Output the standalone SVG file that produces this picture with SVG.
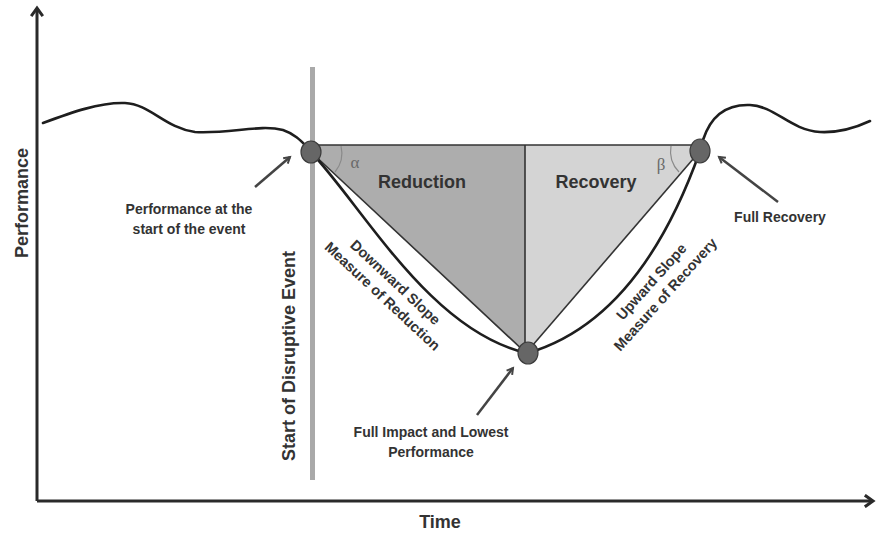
<svg xmlns="http://www.w3.org/2000/svg" width="877" height="535" viewBox="0 0 877 535">
<defs>
<style>
.t{font-family:"Liberation Sans",Arial,sans-serif;font-weight:bold;fill:#333;}
.lbl{font-size:14px;text-anchor:middle;}
.slope{font-size:14.5px;text-anchor:middle;}
.big{font-size:18px;text-anchor:middle;}
.greek{font-family:"Liberation Serif","Times New Roman",serif;font-size:17px;fill:#6a6a6a;text-anchor:middle;}
.curve{fill:none;stroke:#1e1e1e;stroke-width:2.6;stroke-linecap:round;}
.edge{fill:none;stroke:#333;stroke-width:1.6;}
.arr{fill:none;stroke:#444;stroke-width:2.5;marker-end:url(#vh);}
.axis{fill:none;stroke:#2a2a2a;stroke-width:3;}
.dot{fill:#666;stroke:#3c3c3c;stroke-width:1.2;}
.arc{fill:none;stroke:#8a8a8a;stroke-width:1.2;}
</style>
<marker id="vh" markerWidth="10" markerHeight="10" refX="7" refY="4" orient="auto" markerUnits="userSpaceOnUse" viewBox="0 0 10 8">
<path d="M1,0.5 L7,4 L1,7.5" fill="none" stroke="#444" stroke-width="2"/>
</marker>
<marker id="axh" markerWidth="14" markerHeight="14" refX="9" refY="6" orient="auto" markerUnits="userSpaceOnUse" viewBox="0 0 12 12">
<path d="M2,1 L9,6 L2,11" fill="none" stroke="#2a2a2a" stroke-width="2.6"/>
</marker>
</defs>
<rect width="877" height="535" fill="#fff"/>

<g id="axes">
<path class="axis" d="M37,501 L37,8" marker-end="url(#axh)"/>
<path class="axis" d="M37,501 L873,501" marker-end="url(#axh)"/>
<text class="t big" transform="translate(28,203) rotate(-90)">Performance</text>
<text class="t big" x="440" y="528">Time</text>
</g>

<g id="event-line">
<rect x="310" y="67" width="5" height="413" fill="#a9a9a9"/>
<text class="t" font-size="18" text-anchor="middle" transform="translate(295,356) rotate(-90)">Start of Disruptive Event</text>
</g>

<g id="reduction">
<polygon points="313,145 525,145 525,353 311,152" fill="#adadad"/>
<text class="t big" x="422" y="188">Reduction</text>
<path class="arc" d="M341,146 A30,30 0 0 1 335,172"/>
<text class="greek" x="355" y="168">α</text>
</g>

<g id="recovery">
<polygon points="525,145 700,145 700,151 526,353 525,353" fill="#d4d4d4"/>
<text class="t big" x="596" y="188">Recovery</text>
<path class="arc" d="M671,146 A30,30 0 0 0 679,172"/>
<text class="greek" x="661" y="170">β</text>
</g>

<g id="connectors">
<path class="curve" d="M43,123 C70,113 100,102 125,103 C150,104 165,128 195,132 C230,134 260,124 283,130 C295,134 302,142 308,148"/>
<path class="curve" d="M703,140 C710,118 725,104 750,105 C775,106 790,130 820,132 C840,133 855,128 870,121"/>
<path class="edge" d="M311,145 L700,145" stroke-width="2"/>
<path class="edge" d="M525,145 L525,353" stroke="#555" stroke-width="2"/>
<path class="edge" d="M311,152 L526,353"/>
<path class="edge" d="M526,353 L700,151"/>
<path class="curve" d="M311,152 C365,210 430,330 526,353"/>
<path class="curve" d="M528,353 Q640,320 700,151"/>
<path class="arr" d="M255,187 L290,157"/>
<path class="arr" d="M778,202 L719,157"/>
<path class="arr" d="M477,415 L513,368"/>
</g>

<g id="start-point">
<ellipse class="dot" cx="311" cy="152" rx="10" ry="11"/>
<text class="t lbl" x="189" y="214">Performance at the</text>
<text class="t lbl" x="189" y="234">start of the event</text>
</g>

<g id="full-recovery">
<ellipse class="dot" cx="700" cy="151" rx="10" ry="12"/>
<text class="t lbl" x="780" y="222">Full Recovery</text>
</g>

<g id="lowest-point">
<ellipse class="dot" cx="528" cy="353" rx="10" ry="11"/>
<text class="t lbl" x="431" y="437">Full Impact and Lowest</text>
<text class="t lbl" x="431" y="457">Performance</text>
</g>

<g id="downward-slope" transform="translate(392,286) rotate(43)">
<text class="t slope" x="0" y="0">Downward Slope</text>
<text class="t slope" x="0" y="19">Measure of Reduction</text>
</g>

<g id="upward-slope" transform="translate(655,285) rotate(-48)">
<text class="t slope" x="0" y="0">Upward Slope</text>
<text class="t slope" x="0" y="19">Measure of Recovery</text>
</g>
</svg>
